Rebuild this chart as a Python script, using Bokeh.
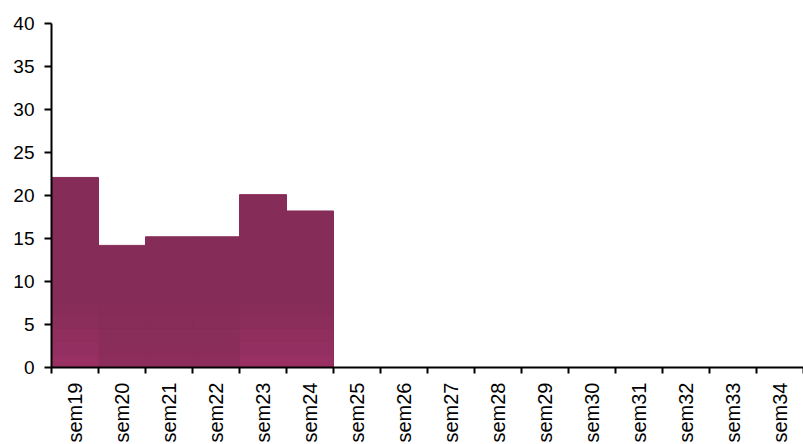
from bokeh.plotting import figure
from bokeh.models import FixedTicker, ColumnDataSource, Range1d
from bokeh.embed import file_html
from bokeh.resources import INLINE
import math

categories = ["sem19", "sem20", "sem21", "sem22", "sem23", "sem24", "sem25", "sem26",
              "sem27", "sem28", "sem29", "sem30", "sem31", "sem32", "sem33", "sem34"]
values = [22.1, 14.2, 15.2, 15.2, 20.1, 18.2, 0, 0, 0, 0, 0, 0, 0, 0, 0, 0]
y_ticks = [0, 5, 10, 15, 20, 25, 30, 35, 40]

n = len(categories)
xs = [i + 0.5 for i in range(n)]

p = figure(frame_width=752, frame_height=344, output_backend="svg", toolbar_location=None,
           x_range=Range1d(0, n), y_range=Range1d(0, 40),
           min_border_left=51, min_border_right=0, min_border_top=23, min_border_bottom=60)

src = ColumnDataSource(dict(x=xs, top=values))
p.vbar(x="x", top="top", width=1.0, bottom=0, source=src,
       fill_color="#862C58", line_color="#862C58", line_width=1)

# subtle lighter shading near the bottom of the bars
bands = [(0, 1.5, 0.55), (1.5, 3, 0.42), (3, 4.5, 0.3), (4.5, 6, 0.18), (6, 7.5, 0.08)]
for lo, hi, a in bands:
    tops = [min(v, hi) if v > lo else 0 for v in values]
    bots = [lo if v > lo else 0 for v in values]
    alphas = [a * (0.35 if c in ("sem20", "sem21", "sem22") else 1.0) for c in categories]
    p.vbar(x=xs, top=tops, bottom=bots, width=1.0, fill_color="#A8356E",
           fill_alpha=alphas, line_color=None)

p.grid.visible = False
p.outline_line_color = None
p.background_fill_color = "white"

xa = p.xaxis[0]
xa.ticker = FixedTicker(ticks=xs, minor_ticks=list(range(n + 1)))
xa.major_label_overrides = {x: c for x, c in zip(xs, categories)}
xa.major_tick_in = 0
xa.major_tick_out = 0
xa.minor_tick_in = 0
xa.minor_tick_out = 6
xa.minor_tick_line_color = "black"
xa.minor_tick_line_width = 2
xa.axis_line_width = 2
xa.axis_line_color = "black"
xa.major_label_orientation = math.pi / 2
xa.major_label_standoff = 9
xa.major_label_text_font = "Liberation Sans"
xa.major_label_text_font_size = "20px"
xa.major_label_text_color = "black"

ya = p.yaxis[0]
ya.ticker = FixedTicker(ticks=y_ticks)
ya.minor_tick_line_color = None
ya.major_tick_in = 0
ya.major_tick_out = 7
ya.major_tick_line_width = 2
ya.axis_line_width = 2
ya.axis_line_color = "black"
ya.major_label_standoff = 10
ya.major_label_text_font = "Liberation Sans"
ya.major_label_text_font_size = "19px"
ya.major_label_text_color = "black"

open("out.html", "w").write(file_html(p, INLINE))
